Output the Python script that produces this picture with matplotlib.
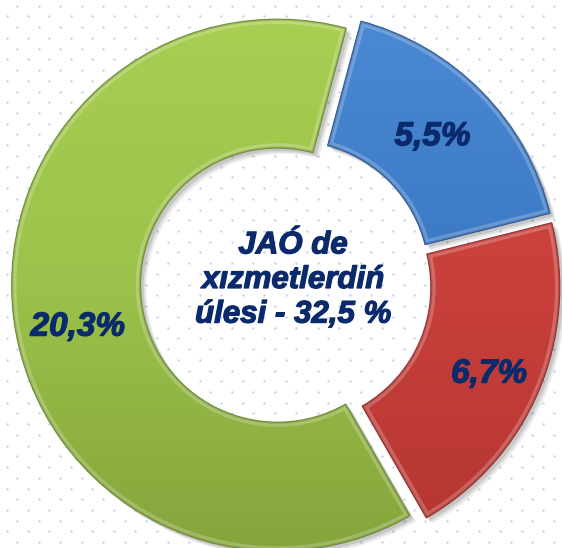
import numpy as np
import matplotlib
matplotlib.use('Agg')
import matplotlib.pyplot as plt
import matplotlib.patheffects as pe
from matplotlib.colors import LinearSegmentedColormap
from matplotlib.patches import Wedge

# ---- data ----
values = [5.5, 6.7, 20.3]
labels = ["5,5%", "6,7%", "20,3%"]
center_title = "JAÓ de\nxızmetlerdiń\núlesi - 32,5 %"

# ---- style ----
base_colors = ["#3B78C4", "#C8403B", "#9BC24A"]
top_colors = ["#4C8AD4", "#D94B45", "#A9D053"]
bottom_colors = ["#2F62A8", "#B33531", "#84A33B"]
edge_colors = ["#24508C", "#8A2724", "#66812C"]
label_nudge = [(-3, 0), (10, -8), (0, -16)]   # small label offsets in px
text_color = "#0B2A6B"
dot_color = "#C2D6F1"

W, H = 562, 548
fig = plt.figure(figsize=(W / 100, H / 100), dpi=100)
fig.patch.set_facecolor("white")
ax = fig.add_axes([0, 0, 1, 1])

# background dot lattice
step = 10.73
rows = np.arange(0, 52)
xs, ys = [], []
for j in rows:
    x0 = 17.3 - (j % 2) * step
    xx = np.arange(x0, W + 1, 2 * step)
    xs.append(xx)
    ys.append(np.full_like(xx, H - (5.7 + step * j)))
xs = np.concatenate(xs)
ys = np.concatenate(ys)
ax.scatter(xs, ys, s=3.0, color=dot_color, linewidths=0, zorder=0)

cx, cy = 286, H - 284
R = 266
ring = 129

thick = [pe.withStroke(linewidth=0.9, foreground=text_color)]

wedges, texts = ax.pie(
    values, labels=labels, colors=base_colors, startangle=75,
    counterclock=False, radius=R, center=(cx, cy), explode=[8.5] * 3,
    labeldistance=0.757,
    wedgeprops=dict(width=ring, linewidth=0),
    textprops=dict(ha="center", va="center", fontsize=24,
                   fontweight="bold", fontstyle="italic",
                   color=text_color, family="Liberation Sans"),
)

for i, w in enumerate(wedges):
    w.set_zorder(2)
    (wx, wy) = w.center
    # soft drop shadow
    for (off, a) in [(6, 0.06), (4.5, 0.08), (3, 0.10)]:
        sh = Wedge((wx + off, wy - off), w.r, w.theta1, w.theta2, width=w.width,
                   facecolor="black", edgecolor="none", alpha=a, zorder=1)
        ax.add_patch(sh)
    # vertical gradient fill
    cmap = LinearSegmentedColormap.from_list(
        "g%d" % i, [bottom_colors[i], base_colors[i], top_colors[i]])
    grad = np.linspace(0, 1, 256).reshape(-1, 1)
    im = ax.imshow(grad, extent=[cx - R - 20, cx + R + 20, cy - R - 20, cy + R + 20],
                   origin="lower", cmap=cmap, aspect="auto", zorder=2.1,
                   interpolation="bicubic")
    im.set_clip_path(w)
    # bevel highlight along the inside of the edges
    hl = Wedge((wx, wy), w.r, w.theta1, w.theta2, width=w.width,
               facecolor="none", edgecolor="white", alpha=0.22, linewidth=7,
               zorder=2.2)
    ax.add_patch(hl)
    hl.set_clip_path(w)
    inner = Wedge((wx, wy), w.r, w.theta1, w.theta2, width=w.width,
                  facecolor="none", edgecolor=edge_colors[i], alpha=0.35,
                  linewidth=2.5, zorder=2.3)
    ax.add_patch(inner)
    inner.set_clip_path(w)
    outline = Wedge((wx, wy), w.r, w.theta1, w.theta2, width=w.width,
                    facecolor="none", edgecolor=edge_colors[i], alpha=0.8,
                    linewidth=0.8, zorder=2.4)
    ax.add_patch(outline)

for t, (dx, dy) in zip(texts, label_nudge):
    x, y = t.get_position()
    t.set_position((x + dx, y + dy))
    t.set_zorder(5)
    t.set_path_effects(thick)

ax.text(293, H - 280, center_title, ha="center", va="center",
        fontsize=22.5, fontweight="bold", fontstyle="italic",
        family="Liberation Sans", color=text_color, linespacing=1.2, zorder=5,
        path_effects=thick)

ax.set_xlim(0, W)
ax.set_ylim(0, H)
ax.set_aspect("equal", adjustable="box")
ax.axis("off")
fig.savefig("out.png", dpi=100, facecolor="white")
